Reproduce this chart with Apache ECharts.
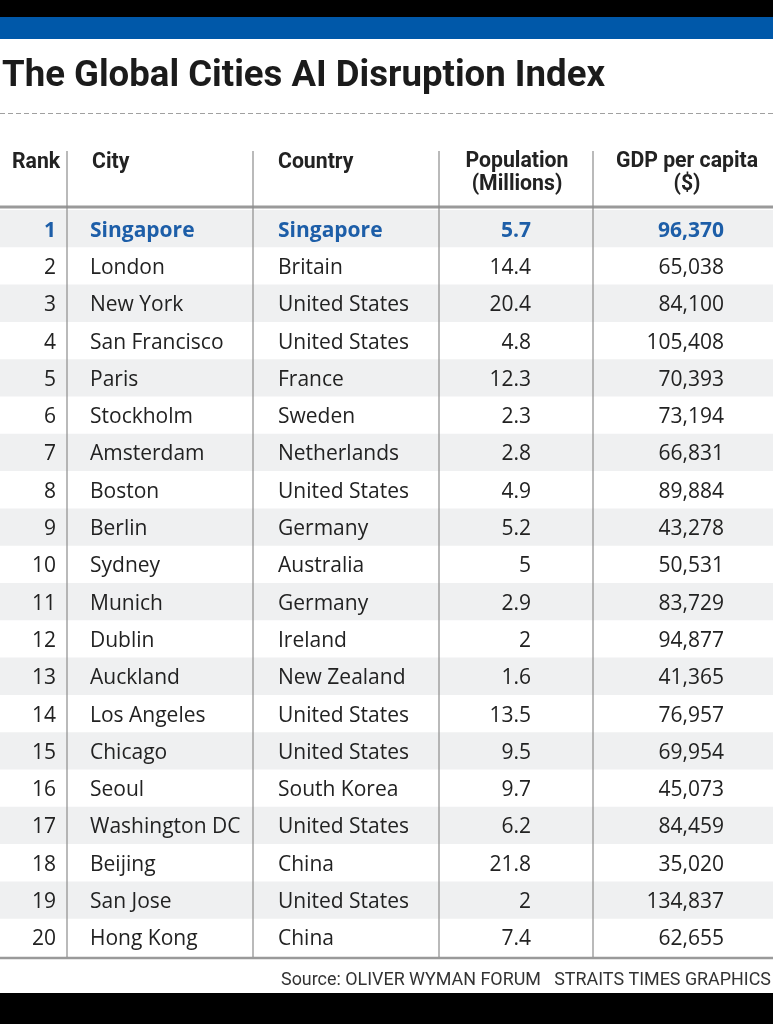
<!DOCTYPE html>
<html>
<head>
<meta charset="utf-8">
<script src="https://cdn.jsdelivr.net/npm/echarts@6/dist/echarts.min.js"></script>
<style>
html,body{margin:0;padding:0;background:#fff;}
#c{width:773px;height:1024px;}
</style>
</head>
<body>
<div id="c"></div>
<script>
const ranks = ['1','2','3','4','5','6','7','8','9','10','11','12','13','14','15','16','17','18','19','20'];
const cities = ['Singapore','London','New York','San Francisco','Paris','Stockholm','Amsterdam','Boston','Berlin','Sydney','Munich','Dublin','Auckland','Los Angeles','Chicago','Seoul','Washington DC','Beijing','San Jose','Hong Kong'];
const countries = ['Singapore','Britain','United States','United States','France','Sweden','Netherlands','United States','Germany','Australia','Germany','Ireland','New Zealand','United States','United States','South Korea','United States','China','United States','China'];
const population = [5.7,14.4,20.4,4.8,12.3,2.3,2.8,4.9,5.2,5,2.9,2,1.6,13.5,9.5,9.7,6.2,21.8,2,7.4];
const gdp = [96370,65038,84100,105408,70393,73194,66831,89884,43278,50531,83729,94877,41365,76957,69954,45073,84459,35020,134837,62655];
const headers = ['Rank','City','Country','Population\n(Millions)','GDP per capita\n($)'];
const titleText = 'The Global Cities AI Disruption Index';
const sourceText = 'Source: OLIVER WYMAN FORUM   STRAITS TIMES GRAPHICS';

// layout (pixels along the hidden x value axis, which spans 0..773)
const W = 773;
const colAnchor = [56, 90, 278, 531, 724];
const colAlign = ['right','left','left','right','right'];
const bodyFont = '"Open Sans", "Noto Sans", sans-serif';
const titleFontCss = 'bold 37px Roboto, "Liberation Sans", sans-serif';
const headFontCss = 'bold 22px Roboto, "Liberation Sans", sans-serif';
const srcFontCss = '19px Roboto, "Liberation Sans", sans-serif';
const blue = '#1d5ea8';
const ink = '#222222';

function fmt(n){ return n.toLocaleString('en-US'); }

const mctx = document.createElement('canvas').getContext('2d');
function measure(text, font){ mctx.font = font; return mctx.measureText(text).width; }
const titleScale = 603 / measure(titleText, titleFontCss);
const headScale = 103 / measure('Population', headFontCss);
const srcScale = 490 / measure(sourceText, srcFontCss);

function ctext(text, x, y, font, scale, align, vAlign, extra){
  return {
    type:'text', x:x, y:y, scaleX:scale, z:50,
    style:Object.assign({text:text, x:0, y:0, align:align, verticalAlign:vAlign, fill:ink, font:font}, extra||{})
  };
}

const chart = echarts.init(document.getElementById('c'), null, {renderer:'canvas'});

const vLines = [67, 253, 439, 593].map(x => ({
  type:'line', z:100,
  shape:{x1:x, y1:151, x2:x, y2:957},
  style:{stroke:'#8c8c8c', lineWidth:1.2}
}));

chart.setOption({
  animation:false,
  grid:{left:0, right:0, top:210, bottom:68},
  xAxis:{type:'value', min:0, max:W, show:false},
  yAxis:{type:'category', data:ranks, inverse:true, show:false},
  series:[{
    type:'custom',
    clip:false,
    data: ranks.map((r,i)=>[0,i]),
    renderItem:function(params, api){
      const i = params.dataIndex;
      const p = api.coord([0, i]);
      const y = p[1];
      const h = api.size([0,1])[1];
      const x0 = api.coord([0,i])[0], x1 = api.coord([W,i])[0];
      const children = [];
      if (i % 2 === 0) {
        children.push({type:'rect', shape:{x:x0, y:y-h/2, width:x1-x0, height:h}, style:{fill:'#eff0f1'}});
      }
      const vals = [ranks[i], cities[i], countries[i], String(population[i]), fmt(gdp[i])];
      const hl = i === 0;
      vals.forEach((t, k) => {
        children.push({
          type:'text',
          style:{
            text:t,
            x: api.coord([colAnchor[k], i])[0],
            y: y + 2,
            align: colAlign[k],
            verticalAlign:'middle',
            fill: hl ? blue : ink,
            fontSize: 21,
            fontWeight: hl ? 'bold' : 'normal',
            fontFamily: bodyFont
          }
        });
      });
      return {type:'group', children:children};
    }
  }],
  graphic:[
    {type:'rect', shape:{x:0,y:0,width:W,height:17}, style:{fill:'#000'}},
    {type:'rect', shape:{x:0,y:17,width:W,height:22}, style:{fill:'#0058a9'}},
    ctext(titleText, 2, 77, titleFontCss, titleScale, 'left', 'middle', {fill:'#1b1b1b'}),
    {type:'line', shape:{x1:0,y1:113.5,x2:W,y2:113.5}, style:{stroke:'#a0a0a0', lineWidth:1, lineDash:[5,3]}},
    ctext(headers[0], 12, 162, headFontCss, headScale, 'left', 'middle'),
    ctext(headers[1], 92, 162, headFontCss, headScale, 'left', 'middle'),
    ctext(headers[2], 278, 162, headFontCss, headScale, 'left', 'middle'),
    ctext(headers[3], 517, 150, headFontCss, headScale, 'center', 'top', {lineHeight:23}),
    ctext(headers[4], 687, 150, headFontCss, headScale, 'center', 'top', {lineHeight:23}),
    {type:'line', z:100, shape:{x1:0,y1:207,x2:W,y2:207}, style:{stroke:'#9a9a9a', lineWidth:3}},
    {type:'line', z:100, shape:{x1:0,y1:958,x2:W,y2:958}, style:{stroke:'#9a9a9a', lineWidth:2.5}},
    ...vLines,
    ctext(sourceText, 771, 980, srcFontCss, srcScale, 'right', 'middle', {fill:'#333'}),
    {type:'rect', shape:{x:0,y:993,width:W,height:31}, style:{fill:'#000'}}
  ]
});
</script>
</body>
</html>
